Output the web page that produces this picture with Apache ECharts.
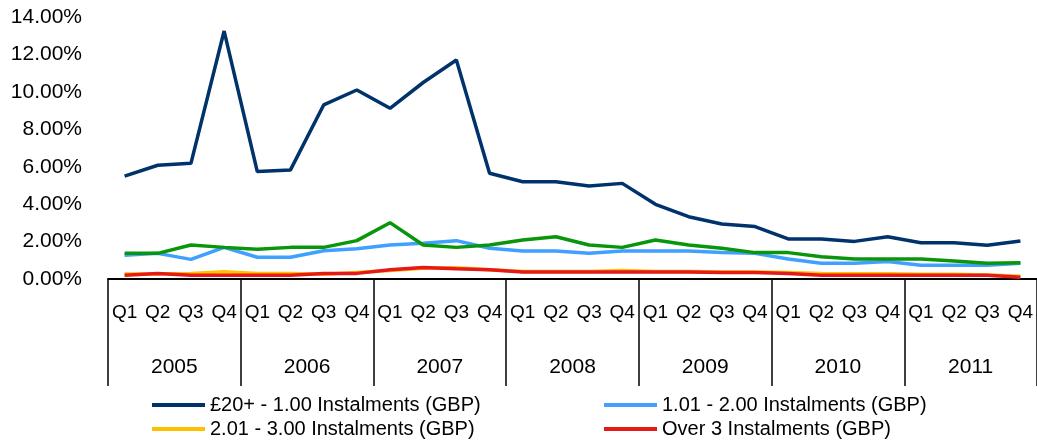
<!DOCTYPE html>
<html>
<head>
<meta charset="utf-8">
<script src="https://cdn.jsdelivr.net/npm/echarts@6/dist/echarts.min.js"></script>
<style>html,body{margin:0;padding:0;background:#fff}#c{width:1037px;height:442px}</style>
</head>
<body>
<div id="c"></div>
<script>
var years = ['2005','2006','2007','2008','2009','2010','2011'];
var quarters = ['Q1','Q2','Q3','Q4'];
var yTicks = [0, 2, 4, 6, 8, 10, 12, 14];

var s20to100 = [5.50,6.08,6.18,13.25, 5.74,5.83,9.30,10.10, 9.12,10.50,11.70,5.65, 5.20,5.20,4.97,5.11, 3.99,3.33,2.94,2.80, 2.14,2.14,2.01,2.26, 1.94,1.94,1.80,2.03];
var s101to200 = [1.27,1.37,1.05,1.69, 1.16,1.16,1.51,1.62, 1.82,1.91,2.05,1.64, 1.50,1.50,1.37,1.50, 1.50,1.50,1.41,1.37, 1.07,0.84,0.84,0.93, 0.73,0.73,0.73,0.84];
var s201to300 = [0.27,0.27,0.30,0.39, 0.30,0.30,0.25,0.35, 0.45,0.58,0.60,0.50, 0.40,0.40,0.40,0.45, 0.40,0.40,0.38,0.38, 0.35,0.30,0.28,0.28, 0.25,0.25,0.22,0.15];
var sOver3 = [0.20,0.30,0.20,0.20, 0.20,0.20,0.30,0.30, 0.50,0.62,0.55,0.50, 0.38,0.38,0.38,0.38, 0.38,0.38,0.35,0.35, 0.30,0.20,0.20,0.20, 0.20,0.20,0.20,0.10];
var sOther = [1.37,1.37,1.82,1.69, 1.59,1.69,1.69,2.05, 3.01,1.82,1.69,1.82, 2.08,2.26,1.82,1.69, 2.08,1.82,1.64,1.41, 1.41,1.19,1.07,1.07, 1.07,0.96,0.84,0.87];

var names = ['£20+ - 1.00 Instalments (GBP)','1.01 - 2.00 Instalments (GBP)','2.01 - 3.00 Instalments (GBP)','Over 3 Instalments (GBP)','All Instalments (GBP)'];
var colors = ['#00336B','#3FA0FF','#FFC000','#E41A1A','#0A960A'];

var qCats = [];
years.forEach(function(y){ quarters.forEach(function(q){ qCats.push(q); }); });

var FONT = '"Liberation Sans", Arial, sans-serif';
function ser(i, data){
  return {name:names[i], type:'line', data:data, xAxisIndex:0, yAxisIndex:0,
    symbol:'none', lineStyle:{width:3.5, color:colors[i]}, itemStyle:{color:colors[i]}};
}
function leg(i, left, top){
  return {orient:'horizontal', left:left, top:top, data:[names[i]], icon:'rect',
    itemWidth:53, itemHeight:4, itemGap:0, padding:0,
    textStyle:{fontFamily:FONT, fontSize:20, color:'#000', padding:[0,0,0,0]}};
}

var chart = echarts.init(document.getElementById('c'));
chart.setOption({
  animation:false,
  grid:{left:108, right:0, top:17, bottom:163},
  legend:[ leg(0,152,395), leg(2,152,419), leg(1,604,395), leg(3,604,419) ],
  xAxis:[
    {type:'category', data:qCats, position:'bottom', boundaryGap:true,
     axisLine:{show:true, lineStyle:{color:'#000', width:2}},
     axisTick:{show:false},
     axisLabel:{interval:0, margin:24, fontFamily:FONT, fontSize:19, color:'#000'}},
    {type:'category', data:years, position:'bottom', boundaryGap:true,
     axisLine:{show:false},
     axisTick:{show:true, length:107, lineStyle:{color:'#000', width:1.5}},
     axisLabel:{interval:0, margin:78, fontFamily:FONT, fontSize:21, color:'#000'}}
  ],
  yAxis:{type:'value', min:yTicks[0], max:yTicks[yTicks.length-1], interval:2,
    axisLine:{show:false}, axisTick:{show:false}, splitLine:{show:false},
    axisLabel:{margin:26, fontFamily:FONT, fontSize:21, color:'#000',
      formatter:function(v){ return v.toFixed(2)+'%'; }}},
  series:[ser(0,s20to100), ser(1,s101to200), ser(2,s201to300), ser(3,sOver3), ser(4,sOther)]
});
</script>
</body>
</html>
